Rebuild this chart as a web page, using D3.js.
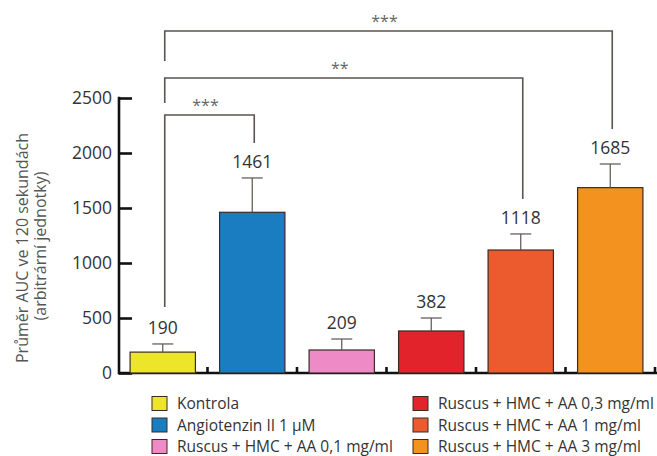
<!DOCTYPE html>
<html>
<head>
<meta charset="utf-8">
<script src="https://cdn.jsdelivr.net/npm/d3@7/dist/d3.min.js"></script>
<style>
  html, body { margin: 0; padding: 0; background: #ffffff; }
  svg { display: block; }
  text { font-family: "Open Sans", "Noto Sans", sans-serif; }
</style>
</head>
<body>
<svg id="chart" width="657" height="456"></svg>
<script>
// ---- data ----
const categories = [
  "Kontrola",
  "Angiotenzin II 1 µM",
  "Ruscus + HMC + AA 0,1 mg/ml",
  "Ruscus + HMC + AA 0,3 mg/ml",
  "Ruscus + HMC + AA 1 mg/ml",
  "Ruscus + HMC + AA 3 mg/ml"
];
const values = [190, 1461, 209, 382, 1118, 1685];
const errors = [74, 312, 100, 118, 146, 215];
const colors = ["#ede52c", "#1b7dc1", "#ee8ac5", "#e3232b", "#eb5b2d", "#f3921f"];
const yTicks = [0, 500, 1000, 1500, 2000, 2500];
const yTitle = ["Průměr AUC ve 120 sekundách", "(arbitrární jednotky)"];
// significance brackets: from category index, to category index, label, bracket level (data units)
const bracketFrom = [0, 0, 0];
const bracketTo = [1, 4, 5];
const bracketLabel = ["***", "**", "***"];
const bracketLevel = [2345, 2682, 3109];

// ---- layout ----
const svg = d3.select("#chart");
const x = d3.scaleBand().domain(categories).range([118, 655]).paddingInner(0.27).paddingOuter(0.135);
const y = d3.scaleLinear().domain([0, 2500]).range([373, 98]);
const axisColor = "#111";
const lineColor = "#5c5352";
const textColor = "#333";

// y axis
const yAxis = svg.append("g").attr("transform", "translate(119,0)")
  .call(d3.axisRight(y).tickValues(yTicks).tickSize(13).tickFormat(""));
yAxis.select(".domain").remove();
yAxis.selectAll("line").attr("stroke", axisColor).attr("stroke-width", 2.6);
svg.append("line").attr("x1", 119).attr("x2", 119).attr("y1", y(2500) - 1.3).attr("y2", y(0) + 1.3)
  .attr("stroke", axisColor).attr("stroke-width", 2.6);
svg.append("g").selectAll("text").data(yTicks).join("text")
  .attr("x", 112).attr("y", d => y(d)).attr("dy", "0.36em")
  .attr("text-anchor", "end").attr("font-size", 17.5).attr("fill", textColor)
  .text(d => d);

// baseline
svg.append("line").attr("x1", 118).attr("x2", 657).attr("y1", y(0)).attr("y2", y(0))
  .attr("stroke", axisColor).attr("stroke-width", 2.6);
// category boundary ticks
svg.append("g").selectAll("line").data(categories).join("line")
  .attr("x1", d => x(d) + x.bandwidth() + x.step() * x.paddingInner() / 2)
  .attr("x2", d => x(d) + x.bandwidth() + x.step() * x.paddingInner() / 2)
  .attr("y1", y(0)).attr("y2", y(0) - 6)
  .attr("stroke", axisColor).attr("stroke-width", 2.6);

// y title
const yt = svg.append("g");
yt.append("text").attr("transform", "translate(28,248) rotate(-90)")
  .attr("text-anchor", "middle").attr("font-size", 16).attr("fill", "#555").text(yTitle[0]);
yt.append("text").attr("transform", "translate(46,246) rotate(-90)")
  .attr("text-anchor", "middle").attr("font-size", 16).attr("fill", "#555").text(yTitle[1]);

// bars
svg.append("g").selectAll("rect").data(categories).join("rect")
  .attr("x", d => x(d)).attr("width", x.bandwidth())
  .attr("y", (d, i) => y(values[i])).attr("height", (d, i) => y(0) - y(values[i]))
  .attr("fill", (d, i) => colors[i]).attr("stroke", "#3a2a25").attr("stroke-width", 1.2);

// error bars
const eb = svg.append("g").attr("stroke", lineColor).attr("stroke-width", 1.2);
categories.forEach((c, i) => {
  const cx = x(c) + x.bandwidth() / 2;
  eb.append("line").attr("x1", cx).attr("x2", cx).attr("y1", y(values[i])).attr("y2", y(values[i] + errors[i]));
  eb.append("line").attr("x1", cx - 10.5).attr("x2", cx + 10.5).attr("y1", y(values[i] + errors[i])).attr("y2", y(values[i] + errors[i]));
});

// value labels
svg.append("g").selectAll("text").data(categories).join("text")
  .attr("x", d => x(d) + x.bandwidth() / 2)
  .attr("y", (d, i) => y(values[i] + errors[i]) - 10)
  .attr("text-anchor", "middle").attr("font-size", 17.5).attr("fill", textColor)
  .text((d, i) => values[i]);

// significance brackets
const legEndBelow = [null, 25, 30];
const br = svg.append("g");
bracketLabel.forEach((lab, k) => {
  const c0 = categories[bracketFrom[k]], c1 = categories[bracketTo[k]];
  const x0 = x(c0) + x.bandwidth() / 2 + 2, x1 = x(c1) + x.bandwidth() / 2 + 2;
  const yl = y(bracketLevel[k]);
  const i0 = bracketFrom[k], i1 = bracketTo[k];
  const leftEnd = k === 0 ? y(values[i0] + errors[i0]) - 37 : yl + legEndBelow[k];
  const rightEnd = y(values[i1] + errors[i1]) - 35;
  br.append("path")
    .attr("d", `M${x0},${leftEnd}V${yl}H${x1}V${rightEnd}`)
    .attr("fill", "none").attr("stroke", lineColor).attr("stroke-width", 1.6);
  br.append("text").attr("x", (x0 + x1) / 2 - 4).attr("y", yl - 4)
    .attr("text-anchor", "middle").attr("font-size", 16).attr("fill", "#666")
    .text(lab);
});

// legend
const leg = svg.append("g");
categories.forEach((c, i) => {
  const col = Math.floor(i / 3), row = i % 3;
  const lx = col === 0 ? 152 : 413;
  const ly = 403.5 + row * 21.5;
  leg.append("rect").attr("x", lx).attr("y", ly - 7).attr("width", 15).attr("height", 14)
    .attr("fill", colors[i]).attr("stroke", "#3a2a25").attr("stroke-width", 1);
  leg.append("text").attr("x", lx + 25).attr("y", ly).attr("dy", "0.36em")
    .attr("font-size", 15.5).attr("fill", textColor).text(c);
});
</script>
</body>
</html>
